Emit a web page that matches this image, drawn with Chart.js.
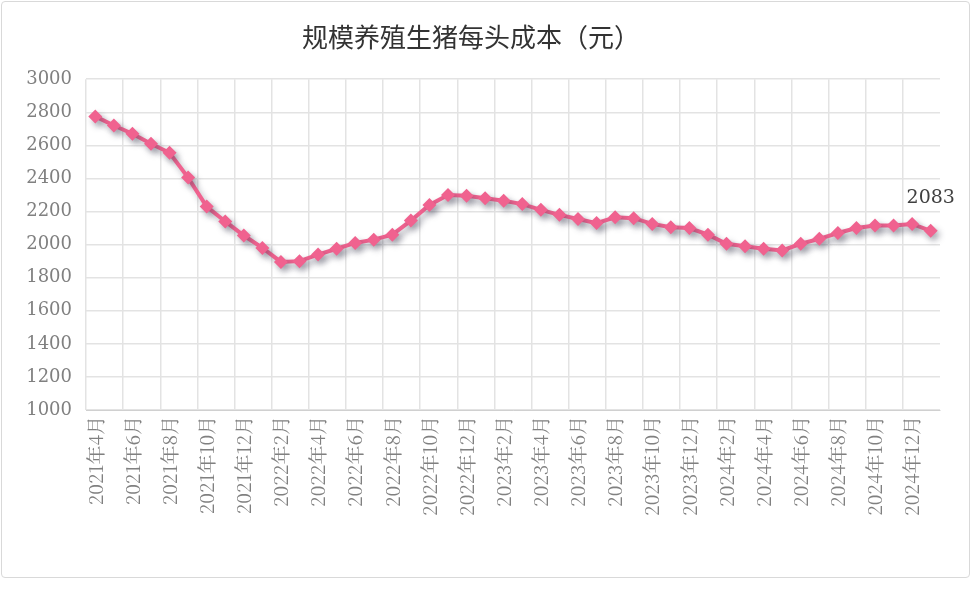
<!DOCTYPE html><html><head><meta charset="utf-8">
<script src="https://cdn.jsdelivr.net/npm/chart.js@4"></script>
<style>html,body{margin:0;background:#fff}#w{position:absolute;left:1px;top:1px;width:967px;height:575px;border:1px solid #d9d9d9;border-radius:4px}</style>
</head><body><div id="w"><canvas id="c" width="967" height="575"></canvas></div>
<script>
const months=[];
for(let y=2021,m=4;months.length<46;){months.push(y+'年'+m+'月');m++;if(m>12){m=1;y++;}}
const costs=[2775,2720,2670,2610,2555,2405,2230,2140,2055,1980,1895,1900,1940,1975,2010,2030,2060,2145,2240,2300,2295,2280,2265,2245,2210,2180,2155,2130,2165,2160,2125,2105,2100,2060,2005,1990,1975,1965,2005,2035,2070,2100,2115,2115,2125,2083];
const title='规模养殖生猪每头成本（元）';
const font='"Noto Sans CJK SC","Noto Sans",sans-serif';
const shadow={id:'sh',beforeDatasetDraw(c){const x=c.ctx;x.save();x.shadowColor='rgba(60,60,80,0.4)';x.shadowBlur=6;x.shadowOffsetX=3;x.shadowOffsetY=4;},afterDatasetDraw(c){c.ctx.restore();}};
const lbl={id:'lbl',afterDraw(c){const m=c.getDatasetMeta(0).data;const p=m[m.length-1];const x=c.ctx;x.save();x.font='19px "DejaVu Serif",serif';x.fillStyle='#404040';x.textAlign='center';x.fillText(String(costs[costs.length-1]),p.x,p.y-28);x.restore();}};
new Chart(document.getElementById('c'),{type:'line',data:{labels:months,datasets:[{data:costs,borderColor:'#f0628f',backgroundColor:'#f0628f',borderWidth:4,pointStyle:'rectRot',pointRadius:7,pointHoverRadius:7,pointBorderWidth:0,tension:0}]},
options:{responsive:false,animation:false,layout:{padding:{top:0,right:29,left:0,bottom:0}},
plugins:{legend:{display:false},tooltip:{enabled:false},title:{display:true,text:title,color:'#333',font:{family:font,size:26,weight:'normal'},padding:{top:20,bottom:26}}},
scales:{x:{offset:true,afterFit(s){s.height=167;},grid:{offset:true,color:c=>c.index%2===0?'#e3e3e3':'rgba(0,0,0,0)',lineWidth:1.5,drawTicks:false},border:{color:'#d0d0d0'},
ticks:{autoSkip:false,maxRotation:90,minRotation:90,color:'#808080',padding:6,font:{family:'"Noto Serif CJK SC","DejaVu Serif",serif',size:19},callback:(v,i)=>i%2===0?months[i]:''}},
y:{min:1000,max:3000,afterFit(s){s.width=84;},grid:{color:'#e3e3e3',lineWidth:1.5,drawTicks:false},border:{display:false},ticks:{stepSize:200,color:'#808080',padding:14,font:{family:'"DejaVu Serif",serif',size:18},callback:v=>String(v)}}}},
plugins:[shadow,lbl]});
</script></body></html>
